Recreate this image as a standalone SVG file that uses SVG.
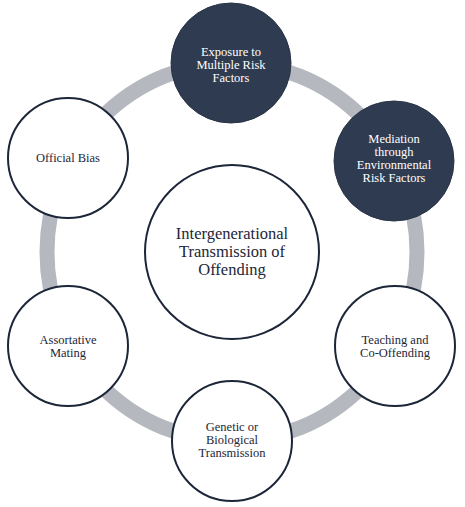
<svg xmlns="http://www.w3.org/2000/svg" width="465" height="507" viewBox="0 0 465 507">
<style>
.ring{fill:none;stroke:#b5b8be;stroke-width:15}
.light{fill:#ffffff;stroke:#1c2638;stroke-width:2}
.dark{fill:#2f3b50;stroke:#2a3446;stroke-width:1}
text{font-family:'Liberation Serif','DejaVu Serif',serif;text-anchor:middle}
.tl{font-size:12.5px;fill:#1c2638}
.td{font-size:12.5px;fill:#ffffff}
.tc{font-size:16.5px;fill:#1c2638}
</style>
<rect width="465" height="507" fill="#ffffff"/>
<g id="connectors">
<ellipse class="ring" cx="232" cy="252" rx="185" ry="189"/>
</g>
<g id="center">
<circle class="light" cx="232" cy="252" r="87"/>
<text class="tc" x="232" y="239">Intergenerational</text>
<text class="tc" x="232" y="257">Transmission of</text>
<text class="tc" x="232" y="275">Offending</text>
</g>
<g id="exposure">
<circle class="dark" cx="231" cy="63" r="60"/>
<text class="td" x="231" y="56">Exposure to</text>
<text class="td" x="231" y="69">Multiple Risk</text>
<text class="td" x="231" y="82">Factors</text>
</g>
<g id="mediation">
<circle class="dark" cx="394" cy="161" r="60"/>
<text class="td" x="394" y="143">Mediation</text>
<text class="td" x="394" y="156">through</text>
<text class="td" x="394" y="169">Environmental</text>
<text class="td" x="394" y="182">Risk Factors</text>
</g>
<g id="teaching">
<circle class="light" cx="395" cy="346" r="60"/>
<text class="tl" x="395" y="344">Teaching and</text>
<text class="tl" x="395" y="357">Co-Offending</text>
</g>
<g id="genetic">
<circle class="light" cx="232" cy="441" r="60"/>
<text class="tl" x="232" y="431">Genetic or</text>
<text class="tl" x="232" y="444">Biological</text>
<text class="tl" x="232" y="457">Transmission</text>
</g>
<g id="assortative">
<circle class="light" cx="68" cy="346" r="60"/>
<text class="tl" x="68" y="344">Assortative</text>
<text class="tl" x="68" y="357">Mating</text>
</g>
<g id="official-bias">
<circle class="light" cx="68" cy="158" r="60"/>
<text class="tl" x="68" y="162">Official Bias</text>
</g>
</svg>
